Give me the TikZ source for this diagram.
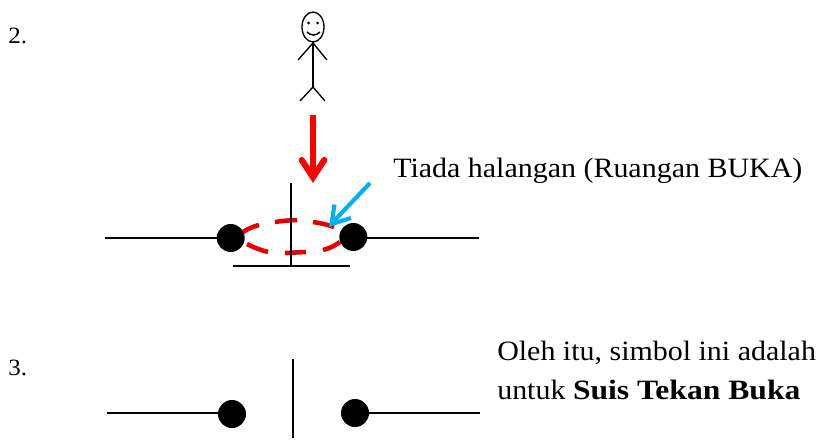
\documentclass[tikz,border=0pt]{standalone}
\usepackage{fontspec}
\setmainfont[FakeStretch=1.07,BoldFeatures={FakeStretch=1.13}]{Liberation Serif}
\tikzset{
 wire/.style={line width=1.15pt,black},
 dot/.style={circle,fill=black,inner sep=0pt,minimum size=21pt},
 lab/.style={inner sep=0pt,anchor=base west,font=\fontsize{21}{24}\selectfont},
 num/.style={inner sep=0pt,anchor=base west,font=\fontsize{17.5}{20}\selectfont},
 bluearrow/.style={color={rgb,255:red,0;green,176;blue,240},line width=3.1pt},
 reddash/.style={red!92!black,line width=3.4pt}
}
\begin{document}
\begin{tikzpicture}[x=0.75pt,y=-0.75pt]
\useasboundingbox (0,0) rectangle (823,439);
\fill[white] (0,0) rectangle (823,439);
\node[num] (n2) at (8,43) {2.};
\node[num] (n3) at (8,375) {3.};
% person
\draw[line width=1pt] (313,27) ellipse (11 and 15);
\fill (308.5,23) circle (1.5);
\fill (317.5,23) circle (1.5);
\draw[line width=1.1pt] (307,32) .. controls (311,36) and (316,36) .. (320,32);
\draw[line width=1.4pt] (313,42) -- (313,87);
\draw[line width=1pt] (298,60) -- (313,43) -- (327,60) (300,101) -- (313,87) -- (325,101);
% red arrow
\coordinate (ra) at (313,115);
\coordinate (rb) at (313,176);
\draw[red,line width=5pt] (ra) -- (rb);
\draw[red,line width=4.6pt,line cap=round,line join=miter] (301.7,160) -- (313,177.3) -- (324.3,160);
% red dashes
\draw[reddash] (243,232) to[bend left=8] (259,225);
\draw[reddash] (275,222) to[bend left=3] (297,220);
\draw[reddash] (313,222) to[bend left=5] (334,227);
\draw[reddash] (323,250) to[bend right=10] (340,242);
\draw[reddash] (285,253) to (306,252);
\draw[reddash] (247,244) to[bend right=6] (268,252);
% switch 2
\node[dot] (d1) at (230.7,238) {};
\node[dot] (d2) at (353.3,237) {};
\coordinate (l1) at (105,238);
\coordinate (r1) at (479,238);
\draw[wire] (l1) -- (l1 -| d1);
\draw[wire] (r1 -| d2) -- (r1);
\draw[wire] (291,183) -- (291,266);
\draw[wire] (233,266) -- (350,266);
% blue arrow
\coordinate (ba) at (370,183);
\coordinate (bb) at (333,222);
\draw[bluearrow] (ba) -- (bb);
\draw[bluearrow,line join=miter] (334.5,204.5) -- (331.5,224) -- (351,218);
\node[lab] (t1) at (393,177) {Tiada halangan (Ruangan BUKA)};
% switch 3
\node[dot] (d3) at (232,414) {};
\node[dot] (d4) at (355,413) {};
\coordinate (l3) at (107,413);
\coordinate (r3) at (480,413);
\draw[wire] (l3) -- (l3 -| d3);
\draw[wire] (r3 -| d4) -- (r3);
\draw[wire] (293,359) -- (293,438);
\node[lab] (t2) at (497,360) {Oleh itu, simbol ini adalah};
\node[lab] (t3) at (497,399) {untuk \textbf{Suis Tekan Buka}};
\end{tikzpicture}
\end{document}
